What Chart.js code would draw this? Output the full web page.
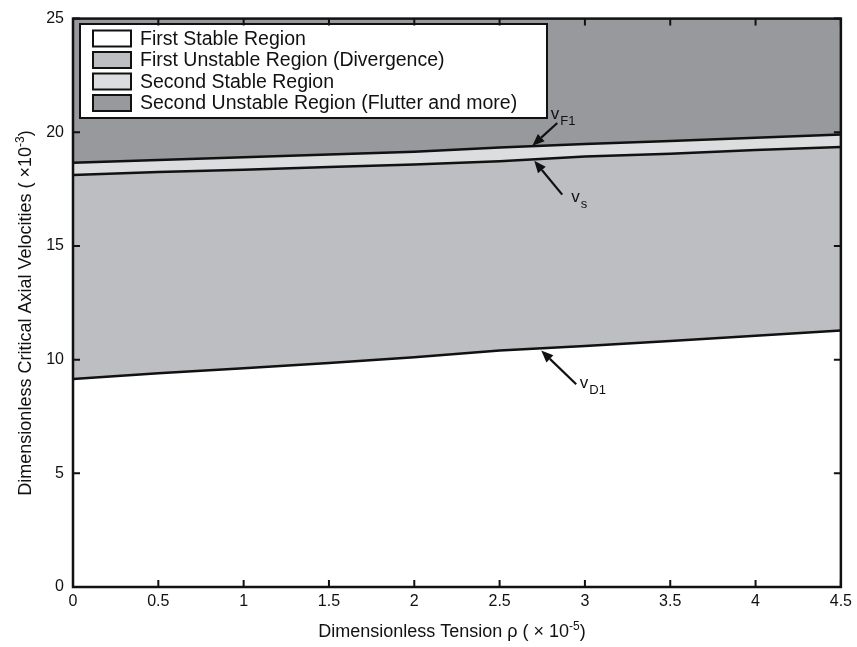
<!DOCTYPE html>
<html>
<head>
<meta charset="utf-8">
<script src="https://cdn.jsdelivr.net/npm/chart.js@4"></script>
<style>
  html, body { margin: 0; padding: 0; background: #fff; }
  #wrap { width: 857px; height: 647px; }
</style>
</head>
<body>
<div id="wrap"><canvas id="chart" width="857" height="647"></canvas></div>
<script>
// data
const rho = [0, 0.5, 1, 1.5, 2, 2.5, 3, 3.5, 4, 4.5];
const vD1 = [9.15, 9.40, 9.62, 9.85, 10.10, 10.40, 10.60, 10.82, 11.05, 11.28];
const vS  = [18.12, 18.25, 18.35, 18.47, 18.58, 18.73, 18.93, 19.06, 19.22, 19.35];
const vF1 = [18.66, 18.78, 18.90, 19.02, 19.14, 19.33, 19.48, 19.62, 19.76, 19.90];

const xTicks = [0, 0.5, 1, 1.5, 2, 2.5, 3, 3.5, 4, 4.5];
const yTicks = [0, 5, 10, 15, 20, 25];

const legendLabels = [
  'First Stable Region',
  'First Unstable Region (Divergence)',
  'Second Stable Region',
  'Second Unstable Region (Flutter and more)'
];
const regionColors = ['#ffffff', '#bdbec1', '#dcddde', '#98999c'];

// arrows: tip / tail in data units, label main + subscript
const arrows = [
  { tip: [2.692, 19.41], tail: [2.838, 20.41], label: 'v', sub: 'F1', at: [2.80, 20.58] },
  { tip: [2.703, 18.75], tail: [2.867, 17.26], label: 'v', sub: 's',  at: [2.92, 16.95] },
  { tip: [2.744, 10.40], tail: [2.949, 8.92],  label: 'v', sub: 'D1', at: [2.97, 8.75] }
];

const FONT = '"Liberation Sans", Arial, Helvetica, sans-serif';

function pts(ys) {
  return rho.map((x, i) => ({ x: x, y: ys[i] }));
}

// box, inward ticks, titles, legend, arrows
const extras = {
  id: 'extras',
  afterDraw(chart) {
    const ctx = chart.ctx;
    const a = chart.chartArea;
    const xs = chart.scales.x, ys = chart.scales.y;

    ctx.save();
    // legend
    const lx = 80, ly = 24, lw = 467, lh = 94;
    ctx.fillStyle = '#fff';
    ctx.fillRect(lx, ly, lw, lh);
    ctx.lineWidth = 2;
    ctx.strokeStyle = '#111';
    ctx.strokeRect(lx, ly, lw, lh);
    ctx.font = '19.5px ' + FONT;
    ctx.textBaseline = 'middle';
    ctx.textAlign = 'left';
    legendLabels.forEach((t, i) => {
      const cy = 38.5 + i * 21.5;
      ctx.fillStyle = regionColors[i];
      ctx.fillRect(93, cy - 8, 38, 16);
      ctx.strokeRect(93, cy - 8, 38, 16);
      ctx.fillStyle = '#111';
      ctx.fillText(t, 140, cy + 1);
    });

    // frame
    ctx.lineWidth = 2.5;
    ctx.strokeStyle = '#111';
    ctx.strokeRect(a.left, a.top, a.right - a.left, a.bottom - a.top);
    // inward ticks
    ctx.lineWidth = 2;
    const tl = 7;
    xTicks.forEach(v => {
      const px = xs.getPixelForValue(v);
      ctx.beginPath();
      ctx.moveTo(px, a.bottom); ctx.lineTo(px, a.bottom - tl);
      ctx.moveTo(px, a.top); ctx.lineTo(px, a.top + tl);
      ctx.stroke();
    });
    yTicks.forEach(v => {
      const py = ys.getPixelForValue(v);
      ctx.beginPath();
      ctx.moveTo(a.left, py); ctx.lineTo(a.left + tl, py);
      ctx.moveTo(a.right, py); ctx.lineTo(a.right - tl, py);
      ctx.stroke();
    });

    // arrows
    ctx.strokeStyle = '#111';
    ctx.fillStyle = '#111';
    arrows.forEach(ar => {
      const x1 = xs.getPixelForValue(ar.tail[0]), y1 = ys.getPixelForValue(ar.tail[1]);
      const x2 = xs.getPixelForValue(ar.tip[0]), y2 = ys.getPixelForValue(ar.tip[1]);
      const ang = Math.atan2(y2 - y1, x2 - x1);
      const hl = 12, hw = 5;
      const bx = x2 - hl * Math.cos(ang), by = y2 - hl * Math.sin(ang);
      ctx.lineWidth = 2.2;
      ctx.beginPath();
      ctx.moveTo(x1, y1); ctx.lineTo(bx, by);
      ctx.stroke();
      ctx.beginPath();
      ctx.moveTo(x2, y2);
      ctx.lineTo(bx + hw * Math.sin(ang), by - hw * Math.cos(ang));
      ctx.lineTo(bx - hw * Math.sin(ang), by + hw * Math.cos(ang));
      ctx.closePath();
      ctx.fill();
      const lxp = xs.getPixelForValue(ar.at[0]), lyp = ys.getPixelForValue(ar.at[1]);
      ctx.textBaseline = 'alphabetic';
      ctx.font = '17px ' + FONT;
      ctx.fillText(ar.label, lxp, lyp);
      const w = ctx.measureText(ar.label).width;
      ctx.font = '13px ' + FONT;
      ctx.fillText(ar.sub, lxp + w + 1, lyp + 6);
    });

    // axis titles with superscripts
    ctx.fillStyle = '#111';
    ctx.textBaseline = 'alphabetic';
    drawTitle(ctx, 'Dimensionless Tension \u03c1 ( \u00d7 10', '-5', ')', 452, 637, 0);
    drawTitle(ctx, 'Dimensionless Critical Axial Velocities ( \u00d710', '-3', ')', 31, 313, -Math.PI / 2);
    ctx.restore();
  }
};

function drawTitle(ctx, main, sup, tail, cx, cy, rot) {
  ctx.save();
  ctx.translate(cx, cy);
  ctx.rotate(rot);
  ctx.font = '18px ' + FONT;
  const w1 = ctx.measureText(main).width;
  const w3 = ctx.measureText(tail).width;
  ctx.font = '12px ' + FONT;
  const w2 = ctx.measureText(sup).width;
  let x = -(w1 + w2 + w3) / 2;
  ctx.textAlign = 'left';
  ctx.font = '18px ' + FONT;
  ctx.fillText(main, x, 0);
  x += w1;
  ctx.font = '12px ' + FONT;
  ctx.fillText(sup, x, -7);
  x += w2;
  ctx.font = '18px ' + FONT;
  ctx.fillText(tail, x, 0);
  ctx.restore();
}

new Chart(document.getElementById('chart'), {
  type: 'line',
  data: {
    datasets: [{
      label: 'vD1',
      data: pts(vD1),
      borderColor: '#111',
      borderWidth: 2.5,
      backgroundColor: regionColors[1],
      fill: '+1',
      pointRadius: 0,
      tension: 0
    }, {
      label: 'vS',
      data: pts(vS),
      borderColor: '#111',
      borderWidth: 2.5,
      backgroundColor: regionColors[2],
      fill: '+1',
      pointRadius: 0,
      tension: 0
    }, {
      label: 'vF1',
      data: pts(vF1),
      borderColor: '#111',
      borderWidth: 2.5,
      backgroundColor: regionColors[3],
      fill: 'end',
      pointRadius: 0,
      tension: 0
    }]
  },
  options: {
    responsive: false,
    animation: false,
    events: [],
    layout: { autoPadding: false, padding: { top: 15, right: 15, left: 0, bottom: 0 } },
    plugins: {
      legend: { display: false },
      tooltip: { enabled: false },
      filler: { drawTime: 'beforeDatasetsDraw' }
    },
    scales: {
      x: {
        type: 'linear',
        min: 0, max: 4.5,
        afterFit(s) { s.height = 60; },
        afterBuildTicks(s) { s.ticks = xTicks.map(v => ({ value: v })); },
        grid: { display: false, drawTicks: false },
        border: { display: false },
        ticks: { color: '#111', font: { size: 16, family: FONT }, padding: 5, maxRotation: 0,
                 callback: v => String(v) }
      },
      y: {
        min: 0, max: 25,
        afterFit(s) { s.width = 73; },
        afterBuildTicks(s) { s.ticks = yTicks.map(v => ({ value: v })); },
        grid: { display: false, drawTicks: false },
        border: { display: false },
        ticks: { color: '#111', font: { size: 16, family: FONT }, padding: 9 }
      }
    }
  },
  plugins: [extras]
});
</script>
</body>
</html>
